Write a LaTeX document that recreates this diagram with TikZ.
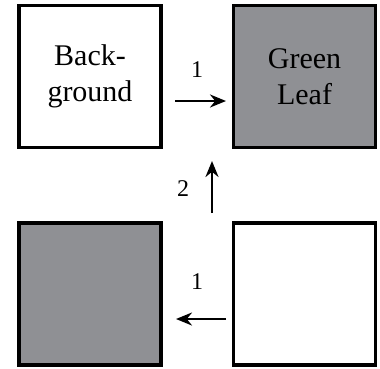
\documentclass[tikz,border=0pt]{standalone}
\usepackage{fontspec}
\setmainfont{Liberation Serif}
\usetikzlibrary{arrows.meta}
\definecolor{leafgray}{RGB}{143,144,148}
\begin{document}
\begin{tikzpicture}[x=1pt,y=-1pt,
  cell/.style={draw=black, line width=3.5pt, minimum width=142pt, minimum height=142pt, inner sep=0pt, align=center, font=\fontsize{30}{36}\selectfont},
  conn/.style={line width=2.5pt, -{Stealth[length=16pt,width=13pt]}},
  lbl/.style={font=\fontsize{24}{28}\selectfont, inner sep=0pt}]
\useasboundingbox (0,0) rectangle (380,368);
\node[cell, fill=white] (bg) at (90,76.5) {Back-\\ground};
\node[cell, fill=leafgray] (leaf) at (304.5,76.5) {Green\\Leaf};
\node[cell, fill=leafgray] (bl) at (90,294) {};
\node[cell, fill=white] (br) at (304.5,294) {};
\coordinate (a1s) at (175,101);
\coordinate (a1e) at (226,101);
\draw[conn] (a1s) -- (a1e);
\node[lbl] (l1) at (197,70) {1};
\coordinate (a2s) at (212,213);
\coordinate (a2e) at (212,161);
\draw[conn] (a2s) -- (a2e);
\node[lbl] (l2) at (183,189) {2};
\coordinate (a3s) at (226,319);
\coordinate (a3e) at (176,319);
\draw[conn] (a3s) -- (a3e);
\node[lbl] (l3) at (197,282) {1};
\end{tikzpicture}
\end{document}
